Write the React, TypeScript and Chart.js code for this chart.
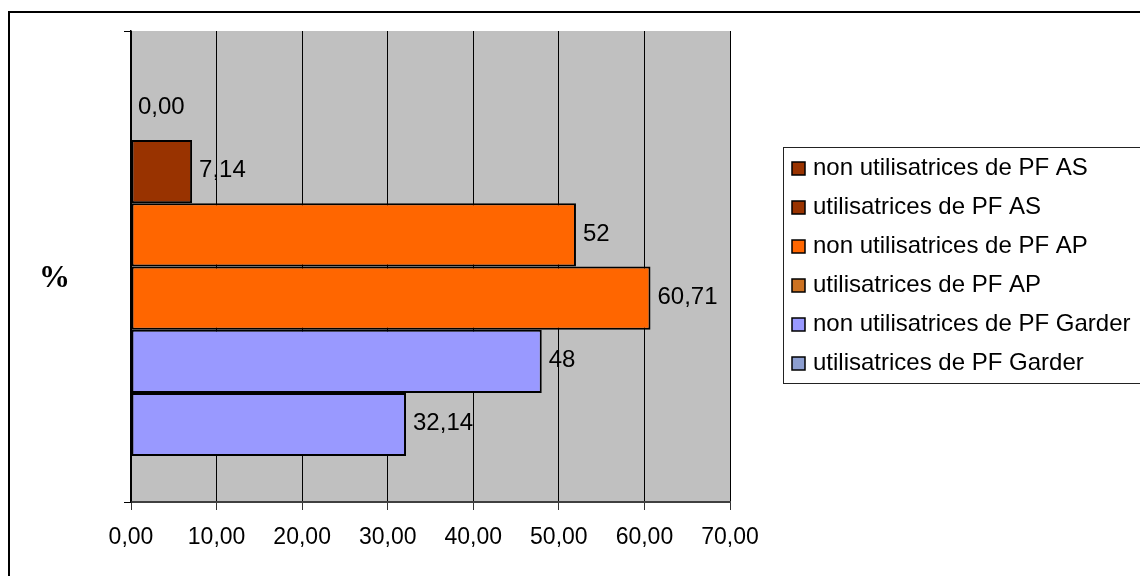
import React, { useEffect, useRef } from "react";
import { Chart, registerables } from "chart.js";

Chart.register(...registerables);

const categories = ["%"];
const seriesLabels = [
  "non utilisatrices de PF AS",
  "utilisatrices de PF AS",
  "non utilisatrices de PF AP",
  "utilisatrices de PF AP",
  "non utilisatrices de PF Garder",
  "utilisatrices de PF Garder",
];
const seriesValues = [0.0, 7.14, 52, 60.71, 48, 32.14];
const barColors = ["#993300", "#993300", "#FF6600", "#FF6600", "#9999FF", "#9999FF"];
const legendColors = ["#993300", "#993300", "#FF6600", "#CC7222", "#9999FF", "#8C9ED0"];
const xTickMin = 0;
const xTickMax = 70;
const xTickStep = 10;

const SANS = '"Liberation Sans", Arial, sans-serif';

function fmtTick(v: number): string {
  return v.toFixed(2).replace(".", ",");
}
function fmtLabel(v: number): string {
  if (v !== 0 && Number.isInteger(v)) return String(v);
  return v.toFixed(2).replace(".", ",");
}

const framePlugin = {
  id: "framePlugin",
  beforeDraw(chart: any) {
    const { ctx, chartArea } = chart;
    ctx.save();
    ctx.fillStyle = "#FFFFFF";
    ctx.fillRect(0, 0, chart.width, chart.height);
    ctx.strokeStyle = "#000000";
    ctx.lineWidth = 2;
    ctx.beginPath();
    ctx.moveTo(9, 1000);
    ctx.lineTo(9, 12);
    ctx.lineTo(1200, 12);
    ctx.stroke();
    ctx.fillStyle = "#C0C0C0";
    ctx.fillRect(chartArea.left, chartArea.top, chartArea.right - chartArea.left, chartArea.bottom - chartArea.top);
    ctx.restore();
  },
};

const dataLabelPlugin = {
  id: "dataLabelPlugin",
  afterDatasetsDraw(chart: any) {
    const { ctx } = chart;
    ctx.save();
    ctx.font = `24px ${SANS}`;
    ctx.fillStyle = "#000000";
    ctx.textAlign = "left";
    ctx.textBaseline = "middle";
    chart.data.datasets.forEach((ds: any, i: number) => {
      const meta = chart.getDatasetMeta(i);
      meta.data.forEach((el: any, j: number) => {
        const v = ds.data[j];
        ctx.fillText(fmtLabel(v), el.x + 7, el.y - 1);
      });
    });
    ctx.restore();
  },
};

const legendPlugin = {
  id: "customLegend",
  afterDraw(chart: any) {
    const { ctx } = chart;
    ctx.save();
    ctx.strokeStyle = "#222222";
    ctx.lineWidth = 1;
    ctx.strokeRect(783.5, 147.5, 500, 236);
    ctx.font = `24px ${SANS}`;
    ctx.textAlign = "left";
    ctx.textBaseline = "middle";
    chart.data.datasets.forEach((ds: any, i: number) => {
      const cy = 168 + i * 39;
      ctx.fillStyle = legendColors[i];
      ctx.fillRect(792, cy - 6, 13, 13);
      ctx.strokeStyle = "#000000";
      ctx.lineWidth = 1.5;
      ctx.strokeRect(792, cy - 6, 13, 13);
      ctx.fillStyle = "#000000";
      ctx.fillText(ds.label, 813, cy);
    });
    ctx.restore();
  },
};

export default function App() {
  const canvasRef = useRef<HTMLCanvasElement | null>(null);

  useEffect(() => {
    if (!canvasRef.current) return;
    const chart = new Chart(canvasRef.current, {
      type: "bar",
      data: {
        labels: categories,
        datasets: seriesLabels.map((label, i) => ({
          label,
          data: [seriesValues[i]],
          backgroundColor: barColors[i],
          borderColor: "#000000",
          borderWidth: 2,
          borderSkipped: false,
          categoryPercentage: 0.805,
          barPercentage: 1,
        })),
      },
      options: {
        indexAxis: "y",
        responsive: false,
        animation: false,
        layout: { padding: { left: 0, top: 31, right: 410, bottom: 14 } },
        plugins: {
          legend: { display: false },
          tooltip: { enabled: false },
        },
        scales: {
          x: {
            type: "linear",
            min: xTickMin,
            max: xTickMax,
            afterFit: (scale: any) => {
              scale.height = 60;
            },
            ticks: {
              stepSize: xTickStep,
              color: "#000000",
              font: { family: SANS, size: 23 },
              padding: 14,
              maxRotation: 0,
              callback: (v: any) => fmtTick(Number(v)),
            },
            grid: {
              color: "#000000",
              lineWidth: 1,
              drawTicks: true,
              tickLength: 8,
              tickColor: "#333333",
            },
            border: { color: "#404040", width: 2 },
          },
          y: {
            type: "category",
            offset: true,
            afterFit: (scale: any) => {
              scale.width = 131;
              scale.paddingTop = 0;
              scale.paddingBottom = 0;
            },
            ticks: {
              color: "#000000",
              font: { family: '"Liberation Serif", "Times New Roman", serif', size: 31, weight: "bold" },
              padding: 54,
              labelOffset: 12,
            },
            grid: {
              offset: true,
              drawOnChartArea: false,
              drawTicks: true,
              tickLength: 7,
              color: "#000000",
            },
            border: { color: "#000000", width: 1.5 },
          },
        },
      },
      plugins: [framePlugin, dataLabelPlugin, legendPlugin],
    } as any);
    return () => chart.destroy();
  }, []);

  return (
    <div style={{ position: "absolute", left: 0, top: 0, width: 1140, height: 576 }}>
      <canvas ref={canvasRef} width={1140} height={576} style={{ width: 1140, height: 576, display: "block" }} />
    </div>
  );
}
